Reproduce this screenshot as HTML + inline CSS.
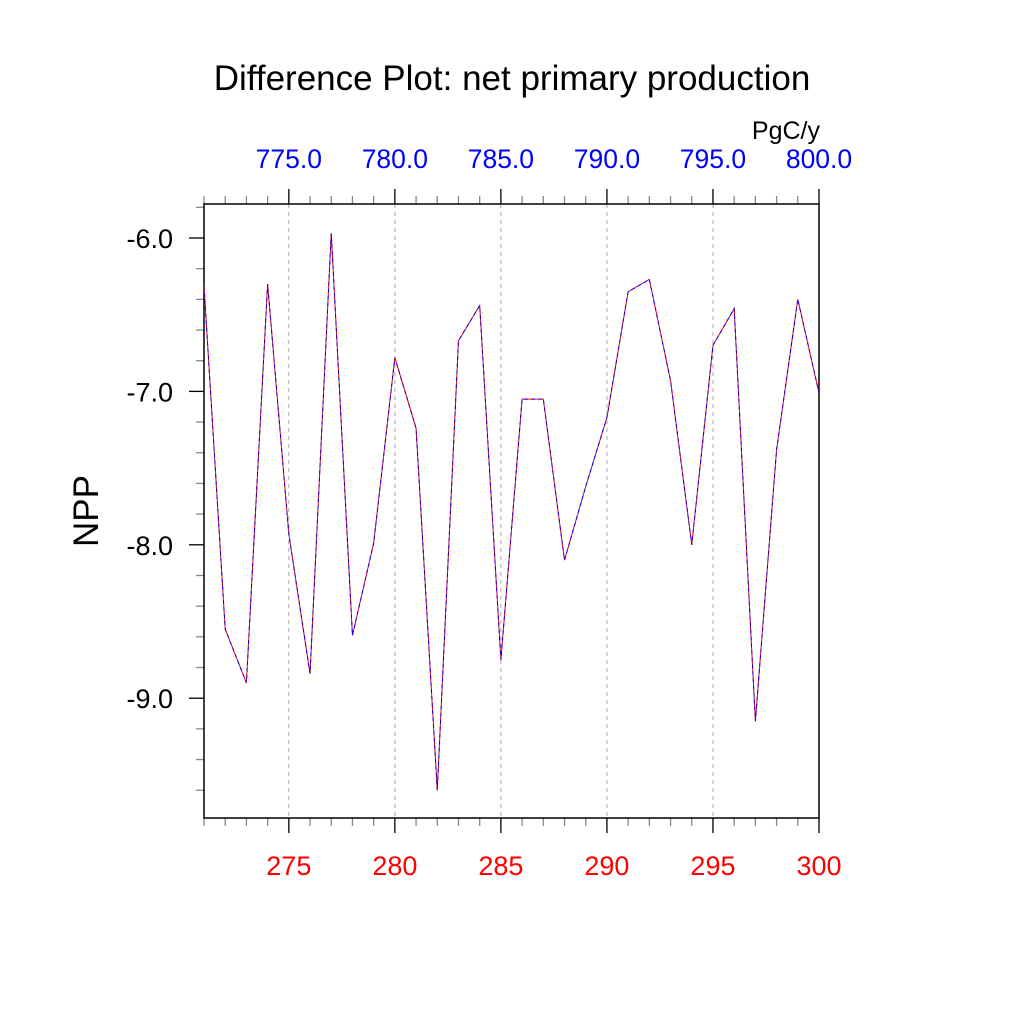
<!DOCTYPE html>
<html><head><meta charset="utf-8"><style>
body{margin:0;background:#fff}
svg{display:block;font-family:"Liberation Sans",sans-serif}
</style></head><body>
<svg id="c" width="1024" height="1024" viewBox="0 0 1024 1024">
<text x="512" y="90" text-anchor="middle" font-size="35">Difference Plot: net primary production</text>
<text x="820" y="139" text-anchor="end" font-size="25">PgC/y</text>
<text transform="translate(98,511) rotate(-90)" text-anchor="middle" font-size="35">NPP</text>
<g id="g"></g>
</svg>
<script>
const years=[271,272,273,274,275,276,277,278,279,280,281,282,283,284,285,286,287,288,289,290,291,292,293,294,295,296,297,298,299,300];
const npp=[-6.31,-8.55,-8.9,-6.30,-7.93,-8.84,-5.97,-8.59,-7.99,-6.78,-7.24,-9.60,-6.67,-6.44,-8.75,-7.05,-7.05,-8.10,-7.62,-7.17,-6.35,-6.27,-6.93,-8.0,-6.70,-6.46,-9.15,-7.38,-6.40,-7.01];
const bottomTicks=[275,280,285,290,295,300];
const topTicks=[775,780,785,790,795,800];
const yTicks=[-6,-7,-8,-9];
const L=204,R=819,T=204,B=818;
const x=v=>L+(v-271)/29*(R-L);
const xt=v=>x(v-500);
const y=v=>238+(-6-v)*153.4;
const g=document.getElementById('g');
const NS='http://www.w3.org/2000/svg';
function mk(t,a,p){const e=document.createElementNS(NS,t);for(const k in a)e.setAttribute(k,a[k]);(p||g).appendChild(e);return e;}
bottomTicks.forEach(v=>{if(v<300){const l=mk('line',{x1:x(v),x2:x(v),y1:T,y2:B,stroke:'#aaa','stroke-width':1,'stroke-dasharray':'4,4'});

}});
for(let v=271;v<=300;v++){const maj=v%5==0;
mk('line',{x1:x(v),x2:x(v),y1:B,y2:B+(maj?15:8),stroke:maj?'#000':'#888','stroke-width':1.3});
mk('line',{x1:x(v),x2:x(v),y1:T,y2:T-(maj?15:8),stroke:maj?'#000':'#888','stroke-width':1.3});}
for(let k=0;k<=20;k++){const v=-5.8-0.2*k;const yy=y(v);if(yy<T-1||yy>B+1)continue;const maj=Math.abs(v-Math.round(v))<1e-6;
mk('line',{x1:L,x2:L-(maj?15:8),y1:yy,y2:yy,stroke:maj?'#000':'#888','stroke-width':1.3});}
mk('rect',{x:L,y:T,width:R-L,height:B-T,fill:'none',stroke:'#000','stroke-width':1.5});
bottomTicks.forEach(v=>{const t=mk('text',{x:x(v),y:875,'text-anchor':'middle','font-size':27,fill:'#f00'});t.textContent=v;

});
topTicks.forEach(v=>{const t=mk('text',{x:xt(v),y:168,'text-anchor':'middle','font-size':26.5,fill:'#00f'});t.textContent=v.toFixed(1);

});
yTicks.forEach(v=>{const t=mk('text',{x:173,y:y(v)+10,'text-anchor':'end','font-size':27});t.textContent=v.toFixed(1);

});
const pts=years.map((v,i)=>x(v)+','+y(npp[i])).join(' ');
const l1=mk('polyline',{points:pts,fill:'none',stroke:'#f00','stroke-width':1});


const l2=mk('polyline',{points:pts,fill:'none',stroke:'#00f','stroke-width':1,'stroke-dasharray':'4,3'});


</script>
</body></html>
